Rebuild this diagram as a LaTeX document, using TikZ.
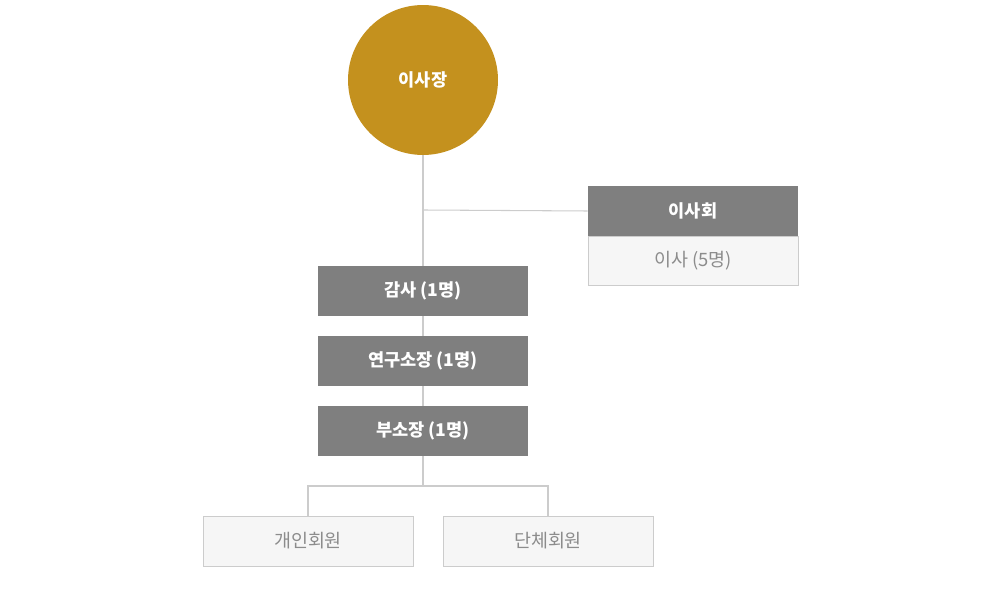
\documentclass[tikz,border=0pt]{standalone}
\usepackage{fontspec}
\newfontfamily\kr{Noto Sans CJK KR}
\definecolor{gold}{HTML}{C4911E}
\definecolor{boxgray}{HTML}{7F7F7F}
\definecolor{paleface}{HTML}{F6F6F6}
\definecolor{linegray}{HTML}{CCCCCC}
\begin{document}
\begin{tikzpicture}[x=0.02cm, y=-0.02cm,
  head/.style={rectangle, fill=boxgray, text=white, font=\kr\bfseries\fontsize{10}{12}\selectfont, minimum width=4.2cm, minimum height=1cm, inner sep=0pt},
  member/.style={rectangle, draw=linegray, fill=paleface, text=black!45, font=\kr\fontsize{10.5}{12}\selectfont, minimum width=4.2cm, minimum height=1cm, inner sep=0pt},
  link/.style={draw=linegray, line width=0.6pt}]
  \useasboundingbox (0,0) rectangle (1000,594);

  \node[circle, fill=gold, minimum size=3cm, inner sep=0pt, text=white, font=\kr\bfseries\fontsize{10}{12}\selectfont] (chair) at (423,80) {이사장};

  \node[head] (board) at (693,211) {이사회};
  \node[member, minimum height=0.98cm] (directors) at (693,260.5) {이사 (5명)};

  \node[head] (audit) at (423,291) {감사 (1명)};
  \node[head] (director) at (423,361) {연구소장 (1명)};
  \node[head] (vice) at (423,431) {부소장 (1명)};

  \node[member] (personal) at (308,541) {개인회원};
  \node[member] (group) at (548,541) {단체회원};

  \coordinate (fork) at (423,210);
  \coordinate (split) at (423,486);

  \path[link] (chair) -- (audit);
  \path[link] (fork) -- (board.west);
  \path[link] (audit) -- (director);
  \path[link] (director) -- (vice);
  \path[link] (vice) -- (split);
  \path[link] (personal.north) |- (split) -| (group.north);
\end{tikzpicture}
\end{document}
